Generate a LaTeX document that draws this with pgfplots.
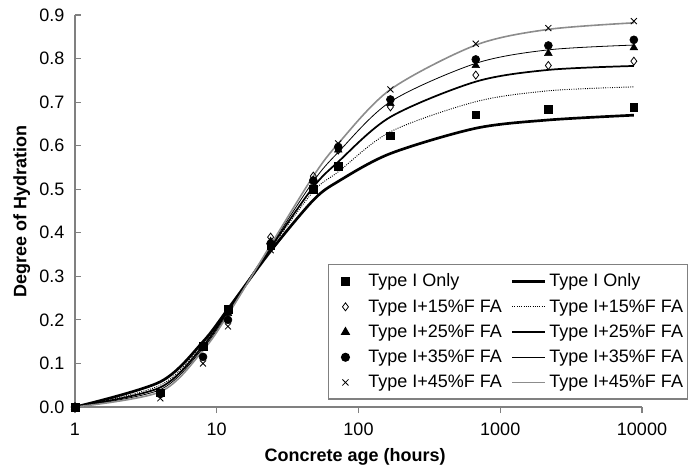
\documentclass[border=0pt]{standalone}
\usepackage{fontspec}
\setmainfont{Liberation Sans}
\usepackage{pgfplots}
\pgfplotsset{compat=1.18}
\definecolor{axgray}{RGB}{128,128,128}
\definecolor{line45}{RGB}{140,140,140}
\pgfplotsset{
  lineleg/.style={legend image code/.code={\draw[##1] (0pt,0pt) -- (24.7pt,0pt);}},
  markleg/.style={legend image code/.code={%
    \path[draw=none, fill=none] (0pt,0pt) (25.5pt,0pt);
    \draw[##1] plot coordinates {(10.5pt,0pt)};}},
}

\pgfplotstableread{
t     c0     c15    c25    c35    c45
1     0.000  0.000  0.000  0.000  0.000
4     0.033  0.030  0.030  0.030  0.020
8     0.140  0.140  0.135  0.115  0.100
12    0.225  0.220  0.215  0.200  0.185
24    0.370  0.390  0.380  0.375  0.360
48    0.500  0.530  0.520  0.520  0.510
72    0.553  0.590  0.590  0.597  0.605
168   0.623  0.689  0.697  0.706  0.729
672   0.671  0.762  0.784  0.798  0.834
2184  0.684  0.784  0.812  0.830  0.870
8760  0.689  0.794  0.825  0.843  0.886
}\measured

\pgfplotstableread{
t     c0     c15    c25    c35    c45
1     0.000  0.000  0.000  0.000  0.000
4     0.058  0.050  0.045  0.040  0.035
8     0.150  0.145  0.140  0.135  0.130
12    0.225  0.222  0.220  0.215  0.212
24    0.358  0.363  0.366  0.369  0.372
48    0.475  0.495  0.505  0.518  0.530
72    0.518  0.540  0.563  0.585  0.605
168   0.582  0.632  0.666  0.701  0.729
672   0.640  0.701  0.747  0.789  0.831
2184  0.659  0.726  0.774  0.820  0.867
8760  0.670  0.735  0.783  0.831  0.882
}\model

\begin{document}
\begin{tikzpicture}
\begin{axis}[
  at={(0,0)}, anchor=south west,
  scale only axis,
  width=425.25pt, height=294pt,
  xmode=log, log basis x=10,
  xmin=1, xmax=10000,
  ymin=0, ymax=0.9,
  axis x line=bottom, axis y line=left,
  axis line style={axgray, line width=1.1pt, -},
  xtick={1,10,100,1000,10000},
  xticklabels={1,10,100,1000,10000},
  xminorticks=false,
  ytick={0,0.1,...,0.9},
  yticklabel style={/pgf/number format/fixed, /pgf/number format/fixed zerofill,
    /pgf/number format/precision=1, xshift=-4.5pt},
  /pgf/number format/assume math mode=true,
  tick style={axgray, line width=0.9pt},
  major tick length=4.5pt,
  xtick align=outside, ytick align=inside,
  tick label style={font=\fontsize{13.5}{16}\selectfont, black},
  xticklabel style={yshift=-4pt},
  xlabel={\textbf{Concrete age (hours)}},
  ylabel={\textbf{Degree of Hydration}},
  label style={font=\fontsize{13.5}{16}\selectfont},
  xlabel style={yshift=-3pt, xshift=-2.5pt},
  ylabel style={yshift=0pt},
  clip=false,
  legend columns=2,
  legend cell align=left,
  legend style={at={(axis description cs:0.4462,0.3648)}, anchor=north west,
    draw=axgray, line width=0.8pt, font=\fontsize{13.5}{16}\selectfont,
    inner xsep=2.2pt, inner ysep=5pt, row sep=4pt,
    nodes={inner xsep=1.1pt},
    /tikz/every odd column/.append style={column sep=1.1pt},
    /tikz/every even column/.append style={column sep=5.6pt}},
]
% Type I only
\addplot[only marks, mark=square*, mark size=2.9pt, black, markleg]
  table[x=t, y=c0] {\measured};
\addlegendentry{Type I Only}
\addplot[black, line width=2pt, smooth, no marks, lineleg] table[x=t, y=c0] {\model};
\addlegendentry{Type I Only}
% 15%
\addplot[only marks, mark=diamond, mark size=3pt, black, mark options={line width=0.6pt}, markleg]
  table[x=t, y=c15] {\measured};
\addlegendentry{Type I+15\%F FA}
\addplot[black, line width=0.7pt, densely dotted, smooth, no marks, lineleg] table[x=t, y=c15] {\model};
\addlegendentry{Type I+15\%F FA}
% 25%
\addplot[only marks, mark=triangle*, mark size=3.3pt, black, markleg]
  table[x=t, y=c25] {\measured};
\addlegendentry{Type I+25\%F FA}
\addplot[black, line width=1.3pt, smooth, no marks, lineleg] table[x=t, y=c25] {\model};
\addlegendentry{Type I+25\%F FA}
% 35%
\addplot[only marks, mark=*, mark size=3pt, black, markleg]
  table[x=t, y=c35] {\measured};
\addlegendentry{Type I+35\%F FA}
\addplot[black, line width=0.6pt, smooth, no marks, lineleg] table[x=t, y=c35] {\model};
\addlegendentry{Type I+35\%F FA}
% 45%
\addplot[only marks, mark=x, mark size=3.2pt, black, mark options={line width=0.6pt}, markleg]
  table[x=t, y=c45] {\measured};
\addlegendentry{Type I+45\%F FA}
\addplot[line45, line width=1.2pt, smooth, no marks, lineleg] table[x=t, y=c45] {\model};
\addlegendentry{Type I+45\%F FA}
\end{axis}
\pgfresetboundingbox
\path[use as bounding box] (-56.25pt,-43.5pt) rectangle (462pt,305.25pt);
\end{tikzpicture}
\end{document}
